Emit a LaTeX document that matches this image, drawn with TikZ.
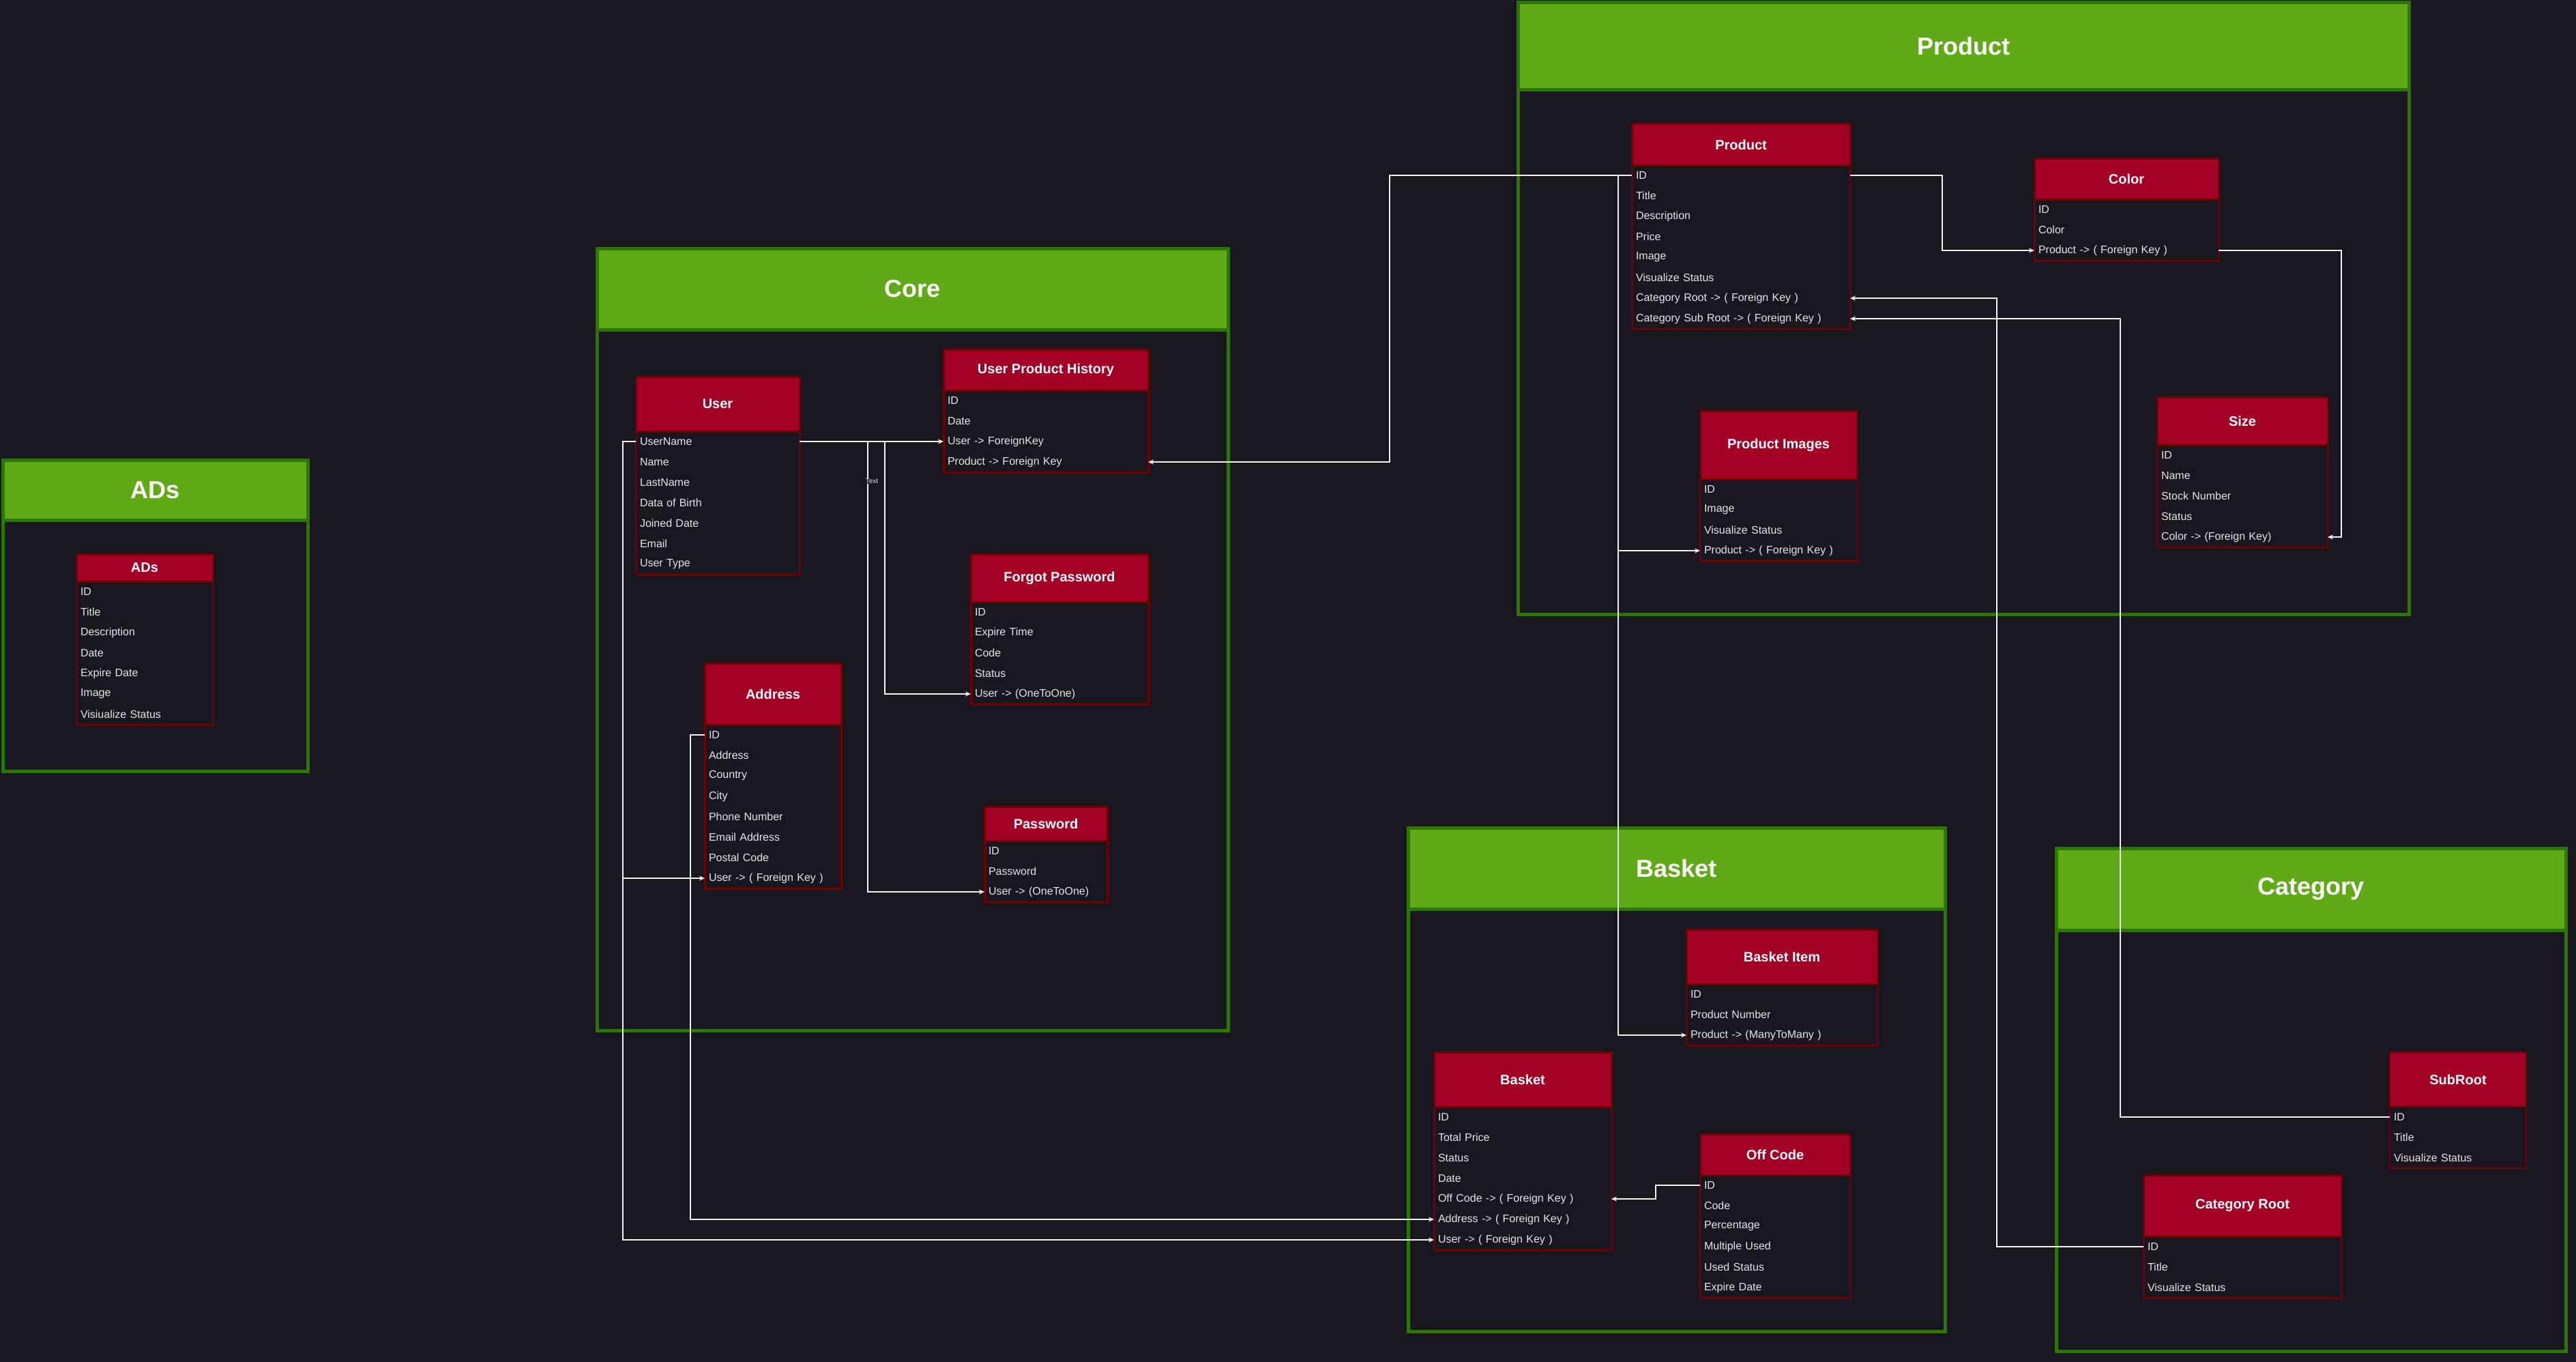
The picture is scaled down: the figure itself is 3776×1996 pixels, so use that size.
\documentclass[tikz,border=0pt]{standalone}
\usepackage{fontspec}
\setmainfont{Liberation Sans}
\usetikzlibrary{arrows.meta, positioning}

\definecolor{canvas}{HTML}{18161F}
\definecolor{lanegreen}{HTML}{60A917}
\definecolor{laneedge}{HTML}{2D7600}
\definecolor{tablered}{HTML}{A20025}
\definecolor{tableedge}{HTML}{6F0000}
\definecolor{rowtext}{HTML}{E6E6E6}
\definecolor{linkwhite}{HTML}{F2F2F2}

\begin{document}
\begin{tikzpicture}[x=1pt, y=-1pt,
    lane/.style={anchor=north west, fill=lanegreen, draw=laneedge, line width=5pt, inner sep=0pt, outer sep=0pt, text=white, font=\bfseries\fontsize{36}{43}\selectfont},
    lanebody/.style={draw=laneedge, line width=5pt, inner sep=0pt, outer sep=0pt},
    thead/.style={anchor=north west, fill=tablered, draw=tableedge, line width=3pt, inner sep=0pt, outer sep=0pt, text=white, font=\bfseries\fontsize{20}{24}\selectfont},
    tbody/.style={draw=tableedge, line width=3pt},
    attr/.style={text width=#1, align=left, inner xsep=6pt, inner ysep=0pt, outer sep=0pt, minimum height=30pt, text=rowtext, font=\fontsize{16}{19}\selectfont},
    link/.style={draw=linkwhite, line width=1.3pt, -{Stealth[length=8pt, width=7pt]}},
    tag/.style={fill=canvas, text=rowtext, inner sep=1pt, font=\fontsize{10}{12}\selectfont}
  ]

  \useasboundingbox (0,0) rectangle (3776,1996);
  \fill[canvas] (0,0) rectangle (3776,1996);

  % Lanes
  \node[lane, minimum width=447pt, minimum height=88pt] (ads-lane) at (4,674) {ADs};
  \node[lanebody, minimum width=447pt, minimum height=368pt, below=0pt of ads-lane] (ads-area) {};
  \node[lane, minimum width=925pt, minimum height=119pt] (core-lane) at (875,364) {Core};
  \node[lanebody, minimum width=925pt, minimum height=1027pt, below=0pt of core-lane] (core-area) {};
  \node[lane, minimum width=1306pt, minimum height=128pt] (product-lane) at (2225,4) {Product};
  \node[lanebody, minimum width=1306pt, minimum height=768pt, below=0pt of product-lane] (product-area) {};
  \node[lane, minimum width=787pt, minimum height=119pt] (basket-lane) at (2064,1213) {Basket};
  \node[lanebody, minimum width=787pt, minimum height=619pt, below=0pt of basket-lane] (basket-area) {};
  \node[lane, minimum width=747pt, minimum height=120pt] (category-lane) at (3014,1243) {Category};
  \node[lanebody, minimum width=747pt, minimum height=617pt, below=0pt of category-lane] (category-area) {};

  % ADs
  \node[thead, minimum width=200pt, minimum height=40pt] (ads) at (112,812) {ADs};
  \node[attr=188pt, below=0pt of ads] (ads-1) {ID};
  \node[attr=188pt, below=0pt of ads-1] (ads-2) {Title};
  \node[attr=188pt, below=0pt of ads-2] (ads-3) {Description};
  \node[attr=188pt, below=0pt of ads-3] (ads-4) {Date};
  \node[attr=188pt, below=0pt of ads-4] (ads-5) {Expire Date};
  \node[attr=188pt, below=0pt of ads-5] (ads-6) {Image};
  \node[attr=188pt, below=0pt of ads-6] (ads-7) {Visiualize Status};
  \draw[tbody] (ads.south west) rectangle (ads-7.south east);

  % User
  \node[thead, minimum width=240pt, minimum height=80pt] (user) at (932,552) {User};
  \node[attr=228pt, below=0pt of user] (user-1) {UserName};
  \node[attr=228pt, below=0pt of user-1] (user-2) {Name};
  \node[attr=228pt, below=0pt of user-2] (user-3) {LastName};
  \node[attr=228pt, below=0pt of user-3] (user-4) {Data of Birth};
  \node[attr=228pt, below=0pt of user-4] (user-5) {Joined Date};
  \node[attr=228pt, below=0pt of user-5] (user-6) {Email};
  \node[attr=228pt, below=0pt of user-6] (user-7) {User Type};
  \draw[tbody] (user.south west) rectangle (user-7.south east);

  % User Product History
  \node[thead, minimum width=300pt, minimum height=60pt] (history) at (1383,512) {User Product History};
  \node[attr=288pt, below=0pt of history] (history-1) {ID};
  \node[attr=288pt, below=0pt of history-1] (history-2) {Date};
  \node[attr=288pt, below=0pt of history-2] (history-3) {User -> ForeignKey};
  \node[attr=288pt, below=0pt of history-3] (history-4) {Product -> Foreign Key};
  \draw[tbody] (history.south west) rectangle (history-4.south east);

  % Forgot Password
  \node[thead, minimum width=260pt, minimum height=70pt] (forgot) at (1423,812) {Forgot Password};
  \node[attr=248pt, below=0pt of forgot] (forgot-1) {ID};
  \node[attr=248pt, below=0pt of forgot-1] (forgot-2) {Expire Time};
  \node[attr=248pt, below=0pt of forgot-2] (forgot-3) {Code};
  \node[attr=248pt, below=0pt of forgot-3] (forgot-4) {Status};
  \node[attr=248pt, below=0pt of forgot-4] (forgot-5) {User -> (OneToOne)};
  \draw[tbody] (forgot.south west) rectangle (forgot-5.south east);

  % Address
  \node[thead, minimum width=200pt, minimum height=90pt] (address) at (1033,972) {Address};
  \node[attr=188pt, below=0pt of address] (address-1) {ID};
  \node[attr=188pt, below=0pt of address-1] (address-2) {Address};
  \node[attr=188pt, below=0pt of address-2] (address-3) {Country};
  \node[attr=188pt, below=0pt of address-3] (address-4) {City};
  \node[attr=188pt, below=0pt of address-4] (address-5) {Phone Number};
  \node[attr=188pt, below=0pt of address-5] (address-6) {Email Address};
  \node[attr=188pt, below=0pt of address-6] (address-7) {Postal Code};
  \node[attr=188pt, below=0pt of address-7] (address-8) {User -> ( Foreign Key )};
  \draw[tbody] (address.south west) rectangle (address-8.south east);

  % Password
  \node[thead, minimum width=180pt, minimum height=50pt] (password) at (1443,1182) {Password};
  \node[attr=168pt, below=0pt of password] (password-1) {ID};
  \node[attr=168pt, below=0pt of password-1] (password-2) {Password};
  \node[attr=168pt, below=0pt of password-2] (password-3) {User -> (OneToOne)};
  \draw[tbody] (password.south west) rectangle (password-3.south east);

  % Product
  \node[thead, minimum width=320pt, minimum height=60pt] (product) at (2392,182) {Product};
  \node[attr=308pt, below=0pt of product] (product-1) {ID};
  \node[attr=308pt, below=0pt of product-1] (product-2) {Title};
  \node[attr=308pt, below=0pt of product-2] (product-3) {Description};
  \node[attr=308pt, below=0pt of product-3] (product-4) {Price};
  \node[attr=308pt, below=0pt of product-4] (product-5) {Image};
  \node[attr=308pt, below=0pt of product-5] (product-6) {Visualize Status};
  \node[attr=308pt, below=0pt of product-6] (product-7) {Category Root -> ( Foreign Key )};
  \node[attr=308pt, below=0pt of product-7] (product-8) {Category Sub Root -> ( Foreign Key )};
  \draw[tbody] (product.south west) rectangle (product-8.south east);

  % Color
  \node[thead, minimum width=270pt, minimum height=60pt] (color) at (2982,232) {Color};
  \node[attr=258pt, below=0pt of color] (color-1) {ID};
  \node[attr=258pt, below=0pt of color-1] (color-2) {Color};
  \node[attr=258pt, below=0pt of color-2] (color-3) {Product -> ( Foreign Key )};
  \draw[tbody] (color.south west) rectangle (color-3.south east);

  % Product Images
  \node[thead, minimum width=230pt, minimum height=100pt] (images) at (2492,602) {Product Images};
  \node[attr=218pt, below=0pt of images] (images-1) {ID};
  \node[attr=218pt, below=0pt of images-1] (images-2) {Image};
  \node[attr=218pt, below=0pt of images-2] (images-3) {Visualize Status};
  \node[attr=218pt, below=0pt of images-3] (images-4) {Product -> ( Foreign Key )};
  \draw[tbody] (images.south west) rectangle (images-4.south east);

  % Size
  \node[thead, minimum width=250pt, minimum height=70pt] (size) at (3162,582) {Size};
  \node[attr=238pt, below=0pt of size] (size-1) {ID};
  \node[attr=238pt, below=0pt of size-1] (size-2) {Name};
  \node[attr=238pt, below=0pt of size-2] (size-3) {Stock Number};
  \node[attr=238pt, below=0pt of size-3] (size-4) {Status};
  \node[attr=238pt, below=0pt of size-4] (size-5) {Color -> (Foreign Key)};
  \draw[tbody] (size.south west) rectangle (size-5.south east);

  % Basket Item
  \node[thead, minimum width=280pt, minimum height=80pt] (item) at (2472,1362) {Basket Item};
  \node[attr=268pt, below=0pt of item] (item-1) {ID};
  \node[attr=268pt, below=0pt of item-1] (item-2) {Product Number};
  \node[attr=268pt, below=0pt of item-2] (item-3) {Product -> (ManyToMany )};
  \draw[tbody] (item.south west) rectangle (item-3.south east);

  % Basket
  \node[thead, minimum width=260pt, minimum height=80pt] (basket) at (2102,1542) {Basket};
  \node[attr=248pt, below=0pt of basket] (basket-1) {ID};
  \node[attr=248pt, below=0pt of basket-1] (basket-2) {Total Price};
  \node[attr=248pt, below=0pt of basket-2] (basket-3) {Status};
  \node[attr=248pt, below=0pt of basket-3] (basket-4) {Date};
  \node[attr=248pt, below=0pt of basket-4] (basket-5) {Off Code -> ( Foreign Key )};
  \node[attr=248pt, below=0pt of basket-5] (basket-6) {Address -> ( Foreign Key )};
  \node[attr=248pt, below=0pt of basket-6] (basket-7) {User -> ( Foreign Key )};
  \draw[tbody] (basket.south west) rectangle (basket-7.south east);

  % Off Code
  \node[thead, minimum width=220pt, minimum height=60pt] (offcode) at (2492,1662) {Off Code};
  \node[attr=208pt, below=0pt of offcode] (offcode-1) {ID};
  \node[attr=208pt, below=0pt of offcode-1] (offcode-2) {Code};
  \node[attr=208pt, below=0pt of offcode-2] (offcode-3) {Percentage};
  \node[attr=208pt, below=0pt of offcode-3] (offcode-4) {Multiple Used};
  \node[attr=208pt, below=0pt of offcode-4] (offcode-5) {Used Status};
  \node[attr=208pt, below=0pt of offcode-5] (offcode-6) {Expire Date};
  \draw[tbody] (offcode.south west) rectangle (offcode-6.south east);

  % SubRoot
  \node[thead, line width=1.2pt, minimum width=200pt, minimum height=80pt] (subroot) at (3503,1542) {SubRoot};
  \node[attr=188pt, below=0pt of subroot] (subroot-1) {ID};
  \node[attr=188pt, below=0pt of subroot-1] (subroot-2) {Title};
  \node[attr=188pt, below=0pt of subroot-2] (subroot-3) {Visualize Status};
  \draw[tbody, line width=1.2pt] (subroot.south west) rectangle (subroot-3.south east);

  % Category Root
  \node[thead, minimum width=290pt, minimum height=90pt] (catroot) at (3142,1722) {Category Root};
  \node[attr=278pt, below=0pt of catroot] (catroot-1) {ID};
  \node[attr=278pt, below=0pt of catroot-1] (catroot-2) {Title};
  \node[attr=278pt, below=0pt of catroot-2] (catroot-3) {Visualize Status};
  \draw[tbody] (catroot.south west) rectangle (catroot-3.south east);

  % Links from User
  \draw[link] (user-1.west) -- ++(-19,0) |- (address-8.west);
  \draw[link] (user-1.west) -- ++(-19,0) |- (basket-7.west);
  \draw[link] (user-1.east) -- (history-3.west);
  \draw[link] (user-1.east) -- ++(100,0) |- (password-3.west);
  \draw[link] (user-1.east) -- ++(125,0) |- (forgot-5.west);
  \node[tag] (link-tag) at (1278,705) {Text};

  % Links from Address and Off Code
  \draw[link] (address-1.west) -- ++(-21,0) |- (basket-6.west);
  \draw[link] (offcode-1.west) -- ++(-65,0) |- (basket-5.east);

  % Links from Product
  \draw[link] (product-1.west) -- ++(-355,0) |- (history-4.east);
  \draw[link] (product-1.west) -- ++(-20,0) |- (images-4.west);
  \draw[link] (product-1.west) -- ++(-20,0) |- (item-3.west);
  \draw[link] (product-1.east) -- ++(135,0) |- (color-3.west);
  \draw[link] (color-3.east) -- ++(180,0) |- (size-5.east);

  % Links from Category
  \draw[link] (catroot-1.west) -- ++(-215,0) |- (product-7.east);
  \draw[link] (subroot-1.west) -- ++(-395,0) |- (product-8.east);

\end{tikzpicture}
\end{document}
